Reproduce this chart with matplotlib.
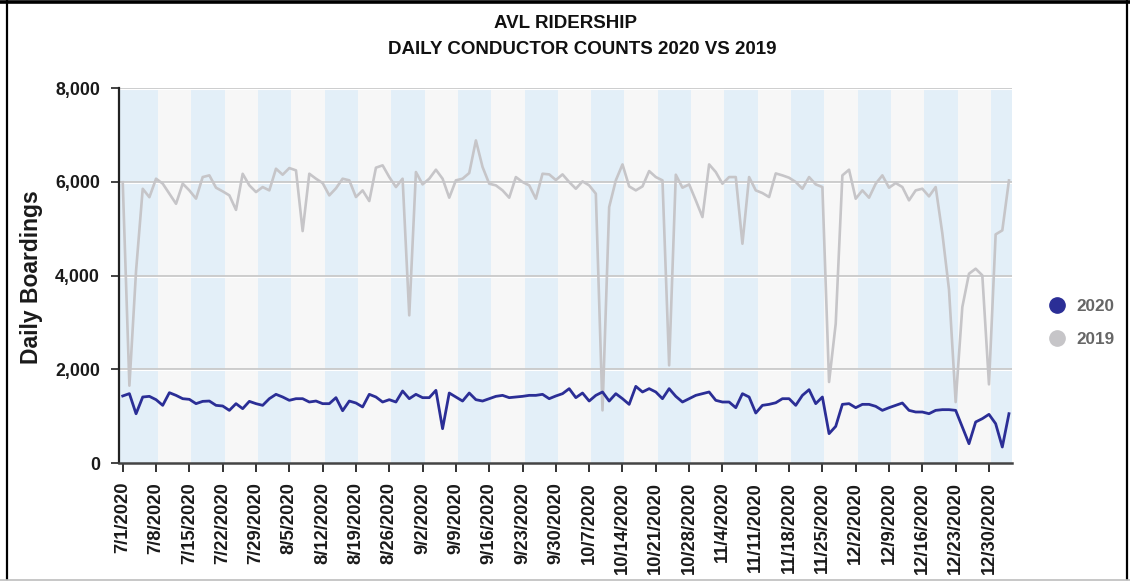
import matplotlib
matplotlib.use("Agg")
import matplotlib.pyplot as plt
from matplotlib.lines import Line2D

tick_labels = ["7/1/2020", "7/8/2020", "7/15/2020", "7/22/2020", "7/29/2020", "8/5/2020",
               "8/12/2020", "8/19/2020", "8/26/2020", "9/2/2020", "9/9/2020", "9/16/2020",
               "9/23/2020", "9/30/2020", "10/7/2020", "10/14/2020", "10/21/2020", "10/28/2020",
               "11/4/2020", "11/11/2020", "11/18/2020", "11/25/2020", "12/2/2020", "12/9/2020",
               "12/16/2020", "12/23/2020", "12/30/2020"]

ridership_2020 = [
    1430, 1480, 1050, 1408, 1422, 1351, 1230, 1500, 1443, 1372,
    1358, 1266, 1315, 1322, 1230, 1216, 1123, 1266, 1159, 1315,
    1266, 1230, 1372, 1465, 1408, 1337, 1372, 1372, 1301, 1322,
    1266, 1266, 1394, 1115, 1322, 1280, 1195, 1465, 1408, 1301,
    1351, 1301, 1536, 1372, 1465, 1394, 1394, 1550, 732, 1493,
    1408, 1322, 1493, 1351, 1322, 1372, 1422, 1443, 1394, 1408,
    1422, 1443, 1443, 1465, 1372, 1430, 1479, 1586, 1394, 1493,
    1322, 1443, 1515, 1322, 1479, 1372, 1251, 1635, 1515, 1586,
    1515, 1372, 1586, 1422, 1301, 1372, 1443, 1479, 1515, 1337,
    1301, 1301, 1180, 1479, 1408, 1066, 1230, 1251, 1285, 1372,
    1372, 1230, 1443, 1564, 1266, 1408, 626, 782, 1251, 1266,
    1180, 1251, 1251, 1209, 1123, 1180, 1230, 1280, 1123, 1088,
    1088, 1052, 1123, 1138, 1138, 1123, 768, 412, 875, 946,
    1038, 839, 341, 1052]

ridership_2019 = [
    5990, 1650, 4100, 5850, 5670, 6065, 5960, 5745, 5530, 5960,
    5815, 5640, 6100, 6136, 5873, 5795, 5710, 5400, 6170, 5923,
    5780, 5887, 5816, 6278, 6150, 6292, 6243, 4948, 6171, 6065,
    5972, 5709, 5860, 6065, 6030, 5674, 5816, 5588, 6300, 6350,
    6100, 5887, 6065, 3150, 6207, 5944, 6065, 6257, 6065, 5660,
    6030, 6065, 6186, 6882, 6314, 5958, 5923, 5816, 5660, 6100,
    5994, 5923, 5638, 6171, 6157, 6037, 6157, 5994, 5851, 6008,
    5923, 5745, 1123, 5460, 6030, 6370, 5901, 5816, 5901, 6228,
    6100, 6030, 2083, 6150, 5873, 5944, 5603, 5247, 6370, 6207,
    5958, 6100, 6100, 4678, 6100, 5816, 5759, 5674, 6178, 6136,
    6086, 5994, 5851, 6100, 5944, 5887, 1728, 2972, 6136, 6257,
    5638, 5816, 5660, 5958, 6136, 5873, 5972, 5887, 5603, 5816,
    5851, 5688, 5887, 4900, 3700, 1300, 3327, 4038, 4145, 4003,
    1678, 4877, 4963, 6029]

series_names = ["2020", "2019"]
series_colors = ["#2b2e96", "#c6c5c8"]

W, H = 1130, 582
fig = plt.figure(figsize=(W / 100, H / 100), dpi=100)
fig.patch.set_facecolor("white")

left_px, right_px, top_px, bot_px = 119.4, 1012.3, 88, 463
ax = fig.add_axes([left_px / W, 1 - bot_px / H, (right_px - left_px) / W, (bot_px - top_px) / H])

n = len(ridership_2020)
x = list(range(n))
xmin, xmax = -0.5, 133.5

# alternating weekly bands
edges = [xmin] + [5 * k + 0.3 for k in range(1, 27)] + [xmax]
for j in range(len(edges) - 1):
    c = "#e3eff8" if j % 2 == 0 else "#f7f7f7"
    ax.axvspan(edges[j], edges[j + 1], color=c, lw=0, zorder=0)

for yv in [2000, 4000, 6000, 8000]:
    ax.axhline(yv, color="#c9c9c9", lw=1.3, zorder=1)
    ax.axhline(yv - 25, color="white", lw=0.8, zorder=1)

ax.plot(x, ridership_2019, color=series_colors[1], lw=1.9, zorder=3)
ax.plot(x, ridership_2020, color=series_colors[0], lw=2.0, zorder=4)

ax.set_xlim(xmin, xmax)
ax.set_ylim(0, 8000)
ax.set_yticks([0, 2000, 4000, 6000, 8000])
ax.set_yticklabels(["0", "2,000", "4,000", "6,000", "8,000"], fontsize=12.8,
                   fontweight="bold", family="Liberation Sans", color="#1a1a1a")
ax.set_xticks(list(range(0, 131, 5)))
ax.set_xticklabels(tick_labels, rotation=90, fontsize=13.2, fontweight="bold",
                   family="Liberation Sans", color="#1a1a1a")
ax.tick_params(axis="x", length=6.5, width=1.3, color="#222222", pad=7)
ax.tick_params(axis="y", length=6, width=1.2, color="#222222", pad=8)

for s in ["top", "right"]:
    ax.spines[s].set_visible(False)
ax.spines["left"].set_color("#222222")
ax.spines["left"].set_linewidth(1.6)
ax.spines["bottom"].set_color("#444444")
ax.spines["bottom"].set_linewidth(1.8)

fig.text(32 / W, 1 - 277 / H, "Daily Boardings", rotation=90, ha="center", va="center",
         fontsize=16.5, fontweight="bold", family="Liberation Sans", color="#1a1a1a")

fig.text(566 / W, 1 - 24 / H, "AVL RIDERSHIP", ha="center", va="center",
         fontsize=13.5, fontweight="bold", family="Liberation Sans", color="#111111")
fig.text(582 / W, 1 - 50 / H, "DAILY CONDUCTOR COUNTS 2020 VS 2019", ha="center", va="center",
         fontsize=13.5, fontweight="bold", family="Liberation Sans", color="#111111")

handles = [Line2D([], [], marker="o", ls="none", markersize=11,
                  markerfacecolor=col, markeredgecolor=col) for col in series_colors]
leg = fig.legend(handles, series_names, loc="center left",
                 bbox_to_anchor=(1031 / W, 1 - 323 / H), frameon=False,
                 prop={"family": "Liberation Sans", "weight": "bold", "size": 12.3},
                 handletextpad=0.55, labelspacing=1.05, handlelength=1.2)
for t in leg.get_texts():
    t.set_color("#666666")

# outer frame of the screenshot
fig.add_artist(Line2D([0, 1], [1 - 1.5 / H, 1 - 1.5 / H], transform=fig.transFigure,
                      color="black", lw=2.6))
fig.add_artist(Line2D([7 / W, 7 / W], [1 - 579 / H, 1], transform=fig.transFigure,
                      color="black", lw=1.6))
fig.add_artist(Line2D([1127 / W, 1127 / W], [1 - 579 / H, 1], transform=fig.transFigure,
                      color="black", lw=1.6))
fig.add_artist(Line2D([0, 1], [1 - 580 / H, 1 - 580 / H], transform=fig.transFigure,
                      color="#bdbdbd", lw=1.2))

fig.savefig("out.png", dpi=100)
